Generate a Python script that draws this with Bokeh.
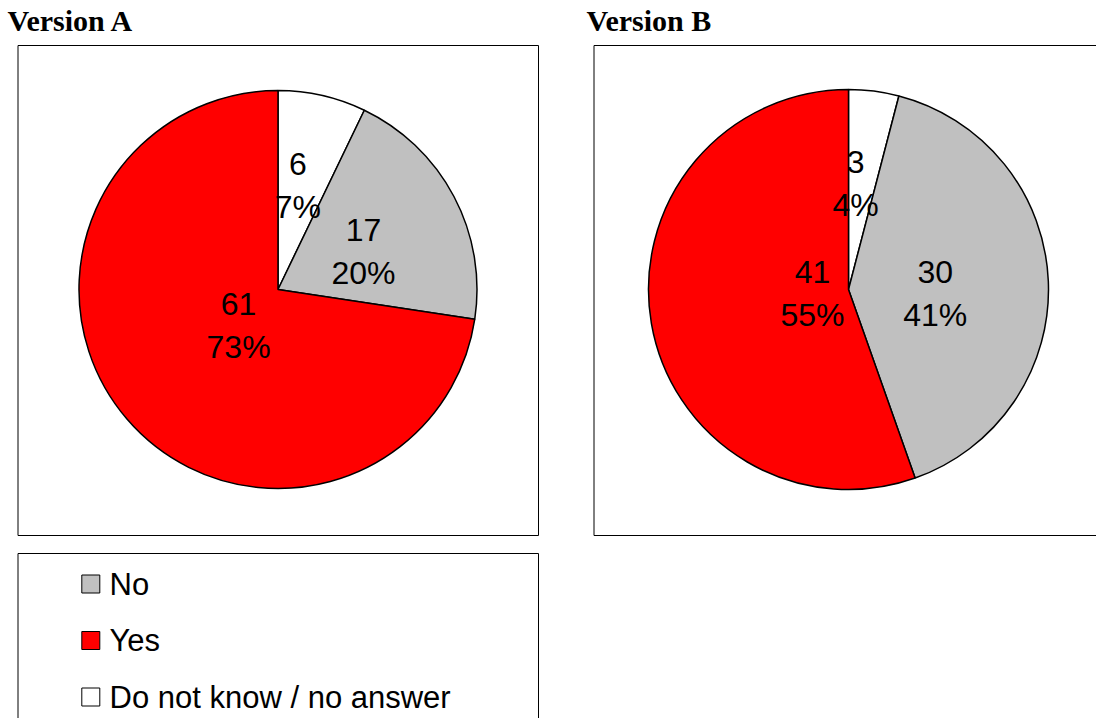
import math
from bokeh.plotting import figure
from bokeh.models import Range1d
from bokeh.embed import file_html
from bokeh.resources import INLINE
from bokeh.core.properties import value

# ---- data ----
categories = ["No", "Yes", "Do not know / no answer"]
version_a = [17, 61, 6]
version_b = [30, 41, 3]
titles = ["Version A", "Version B"]

# ---- style ----
colors = ["#C0C0C0", "#FF0000", "#FFFFFF"]
pie_order = [2, 0, 1]  # clockwise from 12 o'clock
centers = [(277.5, 289.0), (848.0, 289.0)]
radii = [199.0, 200.0]
label_frac = [[0.47, 0.268, 0.532], [0.434, 0.181, 0.531]]
label_adj = [[3.9, -1.6, -2.0], [5.3, 3.4, -3.5]]
FONT = value("Liberation Sans")

W, H = 1096, 718
PAGE_H = 718


def Y(py):
    return PAGE_H - py


p = figure(width=W, height=H, x_range=Range1d(0, W),
           y_range=Range1d(PAGE_H - H, PAGE_H),
           output_backend="svg", toolbar_location=None, min_border=0)
p.axis.visible = False
p.grid.visible = False
p.outline_line_color = None
p.background_fill_color = "white"

# panel frames
p.quad(left=[17.5, 593.5], right=[538, 1200], top=[Y(45), Y(45)], bottom=[Y(535), Y(535)],
       fill_color=None, line_color="black", line_width=1)
# legend frame
p.quad(left=[17.5], right=[538], top=[Y(553)], bottom=[Y(760)],
       fill_color=None, line_color="black", line_width=1)

# titles
p.text(x=[7, 586], y=[Y(20), Y(20)], text=titles, text_font=value("Liberation Serif"),
       text_font_style="bold", text_font_size="30px", text_align="left",
       text_baseline="middle", text_color="black")

labels = []
for k, vals in enumerate([version_a, version_b]):
    cx, cy = centers[k]
    R = radii[k]
    total = sum(vals)
    cum = 0.0
    for i in pie_order:
        sweep = vals[i] / total * 360.0
        start, end = cum, cum + sweep
        cum = end
        p.wedge(x=[cx], y=[Y(cy)], radius=R,
                start_angle=math.radians(90 - start), end_angle=math.radians(90 - end),
                direction="clock", fill_color=colors[i], line_color="black", line_width=1.5)
        mid = (start + end) / 2 + label_adj[k][i]
        r = label_frac[k][i] * R
        lx = cx + r * math.sin(math.radians(mid))
        ly = cy - r * math.cos(math.radians(mid))
        pct = f"{round(100 * vals[i] / total)}%"
        labels.append((lx, ly, str(vals[i]), pct))

# labels drawn after all wedges so they sit on top
for lx, ly, num, pct in labels:
    p.text(x=[lx, lx], y=[Y(ly - 21.5), Y(ly + 21.5)], text=[num, pct],
           text_font=FONT, text_font_size="32px", text_align="center",
           text_baseline="middle", text_color="black")

# legend
leg_y = [583.5, 640, 696.5]
p.scatter(x=[90.3] * 3, y=[Y(v) for v in leg_y], marker="square", size=18,
          fill_color=colors, line_color="black", line_width=1)
p.text(x=[109] * 3, y=[Y(v) for v in leg_y], text=categories, text_font=FONT,
       text_font_size="31px", text_align="left", text_baseline="middle", text_color="black")

open("out.html", "w").write(file_html(p, INLINE))
